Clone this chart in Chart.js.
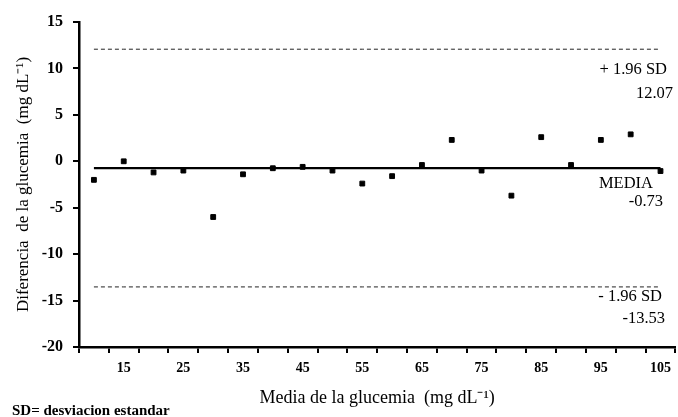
<!DOCTYPE html>
<html>
<head>
<meta charset="utf-8">
<script src="https://cdn.jsdelivr.net/npm/chart.js@4/dist/chart.umd.min.js"></script>
<style>
  html, body { margin: 0; padding: 0; background: #fff; }
  #wrap { width: 678px; height: 417px; position: relative; }
</style>
</head>
<body>
<div id="wrap"><canvas id="bland"></canvas></div>
<script>
// media de la glucemia (categorias del eje x)
const categorias = ["10", "15", "20", "25", "30", "35", "40", "45", "50", "55",
                    "60", "65", "70", "75", "80", "85", "90", "95", "100", "105"]
// diferencia de la glucemia (mg dL-1)
const diferencias = [-2.0, 0.0, -1.2, -1.0, -6.0, -1.4, -0.75, -0.6, -1.0, -2.4,
                     -1.6, -0.4, 2.3, -1.0, -3.7, 2.6, -0.4, 2.3, 2.9, -1.05]
const media = -0.73
const limiteSup = 12.07
const limiteInf = -13.53
const yTicks = [-20, -15, -10, -5, 0, 5, 10, 15]

const serif = "'Liberation Serif', 'Times New Roman', serif"

const etiquetas = {
    id: "etiquetas",
    afterDatasetsDraw(chart) {
        const ctx = chart.ctx
        const y = chart.scales.y
        ctx.save()
        ctx.fillStyle = "#000"
        ctx.textAlign = "right"
        ctx.textBaseline = "middle"
        ctx.font = "16.5px " + serif
        ctx.fillText("+ 1.96 SD", 667, y.getPixelForValue(limiteSup) + 20)
        ctx.fillText(limiteSup.toFixed(2), 673, y.getPixelForValue(limiteSup) + 44)
        ctx.fillText("MEDIA", 653, y.getPixelForValue(media) + 16)
        ctx.fillText(media.toFixed(2), 663, y.getPixelForValue(media) + 34)
        ctx.fillText("- 1.96 SD", 662, y.getPixelForValue(limiteInf) + 10)
        ctx.fillText(limiteInf.toFixed(2), 665, y.getPixelForValue(limiteInf) + 32)
        ctx.textAlign = "left"
        ctx.font = "bold 15px " + serif
        ctx.fillText("SD= desviacion estandar", 12, 411)
        ctx.restore()
    }
}

const ctx = document.getElementById("bland").getContext("2d")
const grafico = new Chart(ctx, {
    type: "line",
    data: {
        labels: categorias,
        datasets: [{
            label: "Diferencia",
            data: diferencias,
            showLine: false,
            pointStyle: "rect",
            pointRadius: 3.4,
            backgroundColor: "#000",
            borderColor: "#000",
            order: 0
        }, {
            label: "Media",
            data: categorias.map(() => media),
            borderColor: "#000",
            borderWidth: 2.2,
            pointRadius: 0,
            order: 1
        }, {
            label: "+1.96 SD",
            data: categorias.map(() => limiteSup),
            borderColor: "#222",
            borderWidth: 1,
            borderDash: [4, 3],
            pointRadius: 0,
            order: 2
        }, {
            label: "-1.96 SD",
            data: categorias.map(() => limiteInf),
            borderColor: "#222",
            borderWidth: 1,
            borderDash: [4, 3],
            pointRadius: 0,
            order: 2
        }]
    },
    options: {
        responsive: true,
        maintainAspectRatio: false,
        animation: false,
        layout: { autoPadding: false, padding: { top: 22, right: 0, left: 0, bottom: 0 } },
        plugins: {
            legend: { display: false },
            tooltip: { enabled: false }
        },
        scales: {
            x: {
                type: "category",
                offset: true,
                border: { color: "#000", width: 2.5 },
                grid: {
                    offset: true,
                    drawOnChartArea: false,
                    drawTicks: true,
                    tickLength: 6,
                    color: "#000",
                    lineWidth: 2
                },
                ticks: {
                    autoSkip: false,
                    maxRotation: 0,
                    padding: 7,
                    color: "#000",
                    font: { family: serif, size: 14, weight: "bold" },
                    callback: (v, i) => (i % 2 === 1 ? categorias[i] : "")
                },
                title: {
                    display: true,
                    text: "Media de la glucemia  (mg dL\u207B\u00B9)",
                    color: "#000",
                    font: { family: serif, size: 18 },
                    padding: { top: 4, bottom: 8 }
                },
                afterFit: (scale) => { scale.height = 70 }
            },
            y: {
                min: -20,
                max: 15,
                afterBuildTicks: (scale) => { scale.ticks = yTicks.map(v => ({ value: v })) },
                border: { color: "#000", width: 2.5 },
                grid: {
                    drawOnChartArea: false,
                    drawTicks: true,
                    tickLength: 6,
                    color: "#000",
                    lineWidth: 2
                },
                ticks: {
                    padding: 10,
                    color: "#000",
                    font: { family: serif, size: 16, weight: "bold" }
                },
                title: {
                    display: true,
                    text: "Diferencia  de la glucemia  (mg dL\u207B\u00B9)",
                    color: "#000",
                    font: { family: serif, size: 17 },
                    padding: { top: 13, bottom: 0 }
                },
                afterFit: (scale) => { scale.width = 79 }
            }
        }
    },
    plugins: [etiquetas]
})
</script>
</body>
</html>
